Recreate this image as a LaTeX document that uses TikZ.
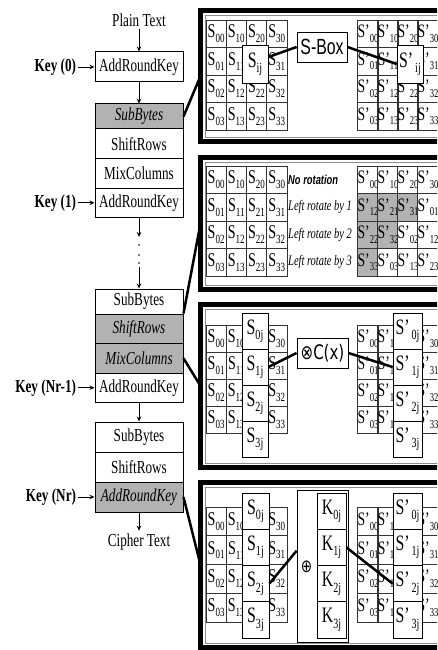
\documentclass[tikz,border=0pt]{standalone}
\usepackage{fontspec}
\setmainfont[FakeStretch=0.72]{Liberation Serif}
\newfontfamily\csans[FakeStretch=0.72]{Liberation Sans}
\newfontfamily\cdv[FakeStretch=0.75]{DejaVu Sans}
\usetikzlibrary{arrows.meta,calc}
\colorlet{shadecol}{black!30}

\newcommand{\Ss}[1]{S\raisebox{-0.25em}{\fontsize{12.5}{12.5}\selectfont #1}}
\newcommand{\Sp}[1]{S’\raisebox{-0.25em}{\fontsize{12}{12}\selectfont #1}}
\newcommand{\Bs}[2]{#1\raisebox{-0.25em}{\fontsize{14}{14}\selectfont #2}}
\newcommand{\Bp}[1]{S’\hspace{2pt}\raisebox{-0.25em}{\fontsize{14}{14}\selectfont #1}}

% #5: condition under which a cell's text is hidden (covered by a box)
\newcommand{\smat}[5]{\foreach \ri in {0,...,3}{\foreach \ci in {0,...,3}{%
  \node[cell, minimum width=20.2, minimum height=#4] (#1-\ri-\ci) at ({#2+(\ci+0.5)*20.2},{#3+(\ri+0.5)*#4}) {\ifnum#5 \else\Ss{\ci\ri}\fi};}}}
\newcommand{\pmat}[5]{\foreach \ri in {0,...,3}{\foreach \ci in {0,...,3}{%
  \node[pcell, minimum width=20, minimum height=#4] (#1-\ri-\ci) at ({#2+(\ci+0.5)*20},{#3+(\ri+0.5)*#4}) {\ifnum#5 \else\Sp{\ci\ri}\fi};}}}

\tikzset{
  lbox/.style={draw, line width=1pt, minimum width=88pt, inner sep=0pt, font=\fontsize{18.3}{18.3}\selectfont},
  shade/.style={fill=shadecol},
  klab/.style={inner sep=0pt, outer sep=2pt, font=\bfseries\fontsize{18.3}{18.3}\selectfont},
  tlab/.style={inner sep=0pt, outer sep=3pt, font=\fontsize{18.3}{18.3}\selectfont},
  cell/.style={draw=black!80, line width=0.6pt, inner sep=0pt, font=\fontsize{19.5}{19.5}\selectfont},
  pcell/.style={cell, font=\fontsize{19}{19}\selectfont},
  big/.style={draw, fill=white, line width=0.8pt, inner sep=0pt, font=\fontsize{22}{22}\selectfont},
  frame/.style={draw, line width=5pt, inner sep=0pt, outer sep=0pt},
  innerline/.style={draw=black!45, line width=0.6pt},
  conn/.style={line width=2.5pt},
  arr/.style={-{Stealth[length=5pt,width=4.5pt]}, line width=0.9pt},
  rotlab/.style={anchor=west, inner sep=0pt, font=\itshape\fontsize{14.5}{14.5}\selectfont},
}

\begin{document}
\begin{tikzpicture}[x=1pt, y=-1pt]
\useasboundingbox (0,0) rectangle (437,650);
\clip (0,0) rectangle (437,650);

% ---------- left column ----------
\node[tlab] (pt) at (139,20) {Plain Text};
\node[lbox, minimum height=30pt] (ark0) at (139,67) {AddRoundKey};
\node[klab, anchor=east] (k0) at (78,67) {Key (0)};

\node[lbox, shade, minimum height=25pt] (g1sub) at (139,116.5) {\itshape SubBytes};
\node[lbox, minimum height=29.5pt] (g1shift) at (139,143.75) {ShiftRows};
\node[lbox, minimum height=29.5pt] (g1mix) at (139,173.25) {MixColumns};
\node[lbox, minimum height=29.5pt] (g1ark) at (139,202.75) {AddRoundKey};
\node[klab, anchor=east] (k1) at (78,202.75) {Key (1)};

\coordinate (d1) at (139,237);
\coordinate (d2) at (139,267);
\fill (139,245) circle (0.9);
\fill (139,255) circle (0.9);
\fill (139,263) circle (0.9);

\node[lbox, minimum height=25pt] (g2sub) at (139,301.5) {SubBytes};
\node[lbox, shade, minimum height=29.5pt] (g2shift) at (139,328.75) {\itshape ShiftRows};
\node[lbox, shade, minimum height=29.5pt] (g2mix) at (139,358.25) {\itshape MixColumns};
\node[lbox, minimum height=29.5pt] (g2ark) at (139,387.75) {AddRoundKey};
\node[klab, anchor=east] (k2) at (78,387.75) {Key (Nr-1)};

\node[lbox, minimum height=30pt] (g3sub) at (139,437) {SubBytes};
\node[lbox, minimum height=30pt] (g3shift) at (139,467) {ShiftRows};
\node[lbox, shade, minimum height=30pt] (g3ark) at (139,497) {\itshape AddRoundKey};
\node[klab, anchor=east] (k3) at (78,497) {Key (Nr)};
\node[tlab] (ct) at (139,542) {Cipher Text};

\draw[arr] (pt) -- (ark0);
\draw[arr] (k0) -- (ark0);
\draw[arr] (ark0) -- (g1sub);
\draw[arr] (k1) -- (g1ark);
\draw[arr] (g1ark) -- (d1);
\draw[arr] (d2) -- (g2sub);
\draw[arr] (k2) -- (g2ark);
\draw[arr] (g2ark) -- (g3sub);
\draw[arr] (k3) -- (g3ark);
\draw[arr] (g3ark) -- (ct);

% ---------- panel frames ----------
\node[frame, minimum width=259.5pt, minimum height=131pt] (P1) at (330.25,76) {};
\node[frame, minimum width=259.5pt, minimum height=132pt] (P2) at (330.25,223.5) {};
\node[frame, minimum width=259.5pt, minimum height=163pt] (P3) at (330.25,386) {};
\node[frame, minimum width=259.5pt, minimum height=165pt] (P4) at (330.25,565) {};
\foreach \p in {P1,P2,P3,P4}
  \draw[innerline] ($(\p.north west)+(4.5,4.5)$) rectangle ($(\p.south east)+(-4.5,-4.5)$);

\draw[conn] (g1sub.east) -- (P1.west);
\draw[conn] (g2shift.north east) -- (P2.west);
\draw[conn] (g2mix.east) -- (P3.west);
\draw[conn] (g3ark.east) -- (P4.west);

% ---------- panel 1: SubBytes ----------
\smat{A}{206}{20}{27.5}{\ci\ri=21}
\pmat{B}{358}{20}{27.5}{\ci\ri=21}
\node[big, minimum width=26, minimum height=38] (sij) at (255,64) {\Bs{S}{ij}};
\node[big, minimum width=50, minimum height=30, font=\csans\fontsize{22}{22}\selectfont] (sbox) at (322,47) {S-Box};
\node[big, minimum width=26, minimum height=38] (spij) at (410,64) {\Bp{ij}};
\draw[conn] ($(sij.north east)!0.32!(sij.south east)$) -- (sbox.west);
\draw[conn] (sbox.east) -- (spij.west);

% ---------- panel 2: ShiftRows ----------
\smat{C}{206}{166}{27.5}{0=1}
\foreach \ri/\ci/\lab/\fc in {0/0/00/white,0/1/10/white,0/2/20/white,0/3/30/white,
  1/0/12/shadecol,1/1/21/shadecol,1/2/31/shadecol,1/3/01/white,
  2/0/22/shadecol,2/1/32/shadecol,2/2/02/white,2/3/12/white,
  3/0/33/shadecol,3/1/03/white,3/2/13/white,3/3/23/white}
  \node[pcell, fill=\fc, minimum width=20, minimum height=27.5] (D-\ri-\ci) at ({358+(\ci+0.5)*20},{166+(\ri+0.5)*27.5}) {\Sp{\lab}};
\node[anchor=west, inner sep=0pt, font=\csans\bfseries\itshape\fontsize{13}{13}\selectfont] (nrot) at (288,179.75) {No rotation};
\node[rotlab] (lr1) at (288,207.25) {Left rotate by 1};
\node[rotlab] (lr2) at (288,234.75) {Left rotate by 2};
\node[rotlab] (lr3) at (288,262.25) {Left rotate by 3};

% ---------- panel 3: MixColumns ----------
\smat{E}{206}{325}{27}{\ci=2}
\pmat{F}{358}{325}{27}{\ci=2}
\foreach \ri/\yc in {0/331,1/367,2/403,3/439}{
  \node[big, minimum width=26, minimum height=36] (ec\ri) at (255,\yc) {\Bs{S}{\ri j}};
  \node[big, minimum width=29, minimum height=36] (fc\ri) at (407.5,\yc) {\Bp{\ri j}};
}
\node[big, minimum width=51, minimum height=30, font=\cdv\fontsize{20}{20}\selectfont] (cx) at (322.5,353) {⊗C(x)};
\draw[conn] (ec1.east) -- (cx.west);
\draw[conn] (cx.east) -- (fc1.west);

% ---------- panel 4: AddRoundKey ----------
\smat{G}{206}{507}{28.75}{\ci=2}
\pmat{H}{358}{507}{28.75}{\ci=2}
\node[big, minimum width=51, minimum height=152] (obox) at (322.5,566) {};
\node[inner sep=0pt, font=\cdv\fontsize{18}{18}\selectfont] (oplus) at (306.5,567) {⊕};
\foreach \ri/\yc in {0/511.1,1/547.4,2/583.6,3/619.9}{
  \node[big, minimum width=27, minimum height=36.25] (gc\ri) at (255.5,\yc) {\Bs{S}{\ri j}};
  \node[big, minimum width=29, minimum height=36.25] (kc\ri) at (331.5,\yc) {\Bs{K}{\ri j}};
  \node[big, minimum width=29, minimum height=36.25] (hc\ri) at (407.5,\yc) {\Bp{\ri j}};
}
\draw[conn] (gc2.east) -- ($(obox.north west)!0.4!(obox.south west)$);
\draw[conn] (kc1.east) -- (hc2.west);
\end{tikzpicture}
\end{document}
